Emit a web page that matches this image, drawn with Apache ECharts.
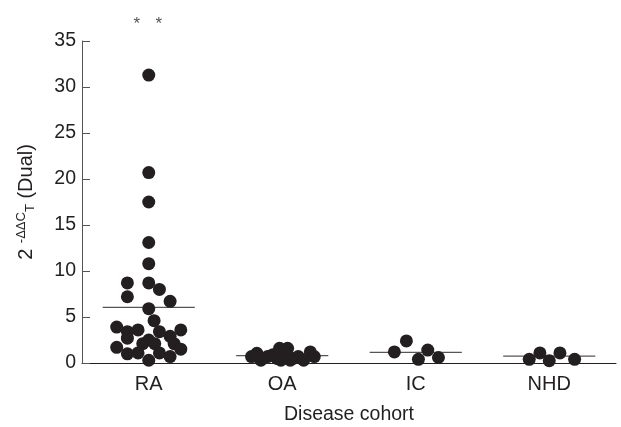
<!DOCTYPE html>
<html>
<head>
<meta charset="utf-8">
<script src="https://cdn.jsdelivr.net/npm/echarts@6/dist/echarts.min.js"></script>
<style>
html,body{margin:0;padding:0;background:#fff;}
#main{width:621px;height:427px;}
</style>
</head>
<body>
<div id="main"></div>
<script>
// 分组
var categories = ['RA', 'OA', 'IC', 'NHD'];
var yTicks = [0, 5, 10, 15, 20, 25, 30, 35];

// 每组的数值与横向散开量（单位：类目宽度）
var raValues = [31.3, 20.7, 17.5, 13.1, 10.8, 8.7, 8.7, 8.0, 7.2, 6.7, 5.9, 4.6, 3.9, 3.4, 3.6, 3.4, 3.6, 2.7, 2.9, 2.5, 2.1, 2.1, 1.7, 2.1, 1.5, 1.0, 1.1, 1.1, 0.7, 0.3];
var raJitter = [0, 0, 0, 0, 0, -0.16, 0, 0.08, -0.16, 0.16, 0, 0.04, -0.24, -0.16, -0.08, 0.08, 0.24, -0.16, 0.16, 0, -0.045, 0.045, -0.24, 0.19, 0.24, -0.16, -0.08, 0.08, 0.16, 0];
var oaValues = [1.05, 0.7, 0.3, 0.7, 0.9, 1.6, 1.6, 0.3, 0.9, 0.5, 0.7, 0.3, 1.2, 0.7, 0.5, 0.3];
var oaJitter = [-0.19, -0.23, -0.16, -0.11, -0.07, -0.02, 0.04, -0.01, 0.02, 0.08, 0.12, 0.16, 0.21, 0.24, -0.04, 0.06];
var icValues = [2.4, 1.2, 0.4, 1.4, 0.6];
var icJitter = [-0.07, -0.16, 0.02, 0.09, 0.17];
var nhdValues = [0.4, 1.1, 0.25, 1.1, 0.4];
var nhdJitter = [-0.15, -0.07, 0, 0.08, 0.19];

// 均值线
var means = [6.05, 0.8, 1.15, 0.75];

// 显著性星号（RA 上方）
var sigJitter = [-0.09, 0.075];
var sigY = 36.8;

var groups = [[raValues, raJitter], [oaValues, oaJitter], [icValues, icJitter], [nhdValues, nhdJitter]];
var points = [];
groups.forEach(function (g, i) {
	g[0].forEach(function (v, k) {
		points.push([i + 1 + g[1][k], v]);
	});
});

var chart = echarts.init(document.getElementById('main'));
var halfW = 0.345;

chart.setOption({
	animation: false,
	grid: {left: 82, right: 5, top: 41, bottom: 64, containLabel: false, outerBoundsMode: 'none'},
	xAxis: [{
		type: 'category',
		data: categories,
		name: 'Disease cohort',
		nameLocation: 'middle',
		nameGap: 42,
		nameTextStyle: {fontFamily: 'Liberation Sans', fontSize: 19.5, color: '#231f20'},
		axisLine: {lineStyle: {color: '#231f20', width: 1}},
		axisTick: {show: false},
		axisLabel: {fontFamily: 'Liberation Sans', fontSize: 20, color: '#231f20', margin: 11},
		splitLine: {show: false}
	}, {
		type: 'value',
		min: 0.5,
		max: 4.5,
		show: false
	}],
	yAxis: {
		type: 'value',
		min: 0,
		max: 35,
		interval: 5,
		name: '{b|2 }{sup|-ΔΔC}{sub|T}{b| (Dual)}',
		nameLocation: 'middle',
		nameRotate: 90,
		nameGap: 44,
		nameTextStyle: {
			rich: {
				b: {fontFamily: 'Liberation Sans', fontSize: 20, color: '#231f20'},
				sup: {fontFamily: 'Liberation Sans', fontSize: 13, color: '#231f20', padding: [0, 0, 10, 0]},
				sub: {fontFamily: 'Liberation Sans', fontSize: 13, color: '#231f20', padding: [8, 0, 0, 0]}
			}
		},
		axisLine: {show: true, lineStyle: {color: '#555', width: 1}},
		axisTick: {show: true, inside: true, length: 8, lineStyle: {color: '#555'}},
		axisLabel: {
			fontFamily: 'Liberation Sans', fontSize: 19.5, color: '#231f20', margin: 6,
			formatter: function (v) { return yTicks.indexOf(v) >= 0 ? String(v) : ''; }
		},
		splitLine: {show: false}
	},
	series: [{
		type: 'custom',
		xAxisIndex: 1,
		z: 1,
		data: means.map(function (m, i) { return [i + 1, m]; }),
		renderItem: function (params, api) {
			var x = api.value(0), y = api.value(1);
			var p1 = api.coord([x - halfW, y]);
			var p2 = api.coord([x + halfW, y]);
			return {
				type: 'line',
				shape: {x1: p1[0], y1: p1[1], x2: p2[0], y2: p2[1]},
				style: {stroke: '#555', lineWidth: 1.2}
			};
		}
	}, {
		type: 'scatter',
		xAxisIndex: 1,
		z: 2,
		symbolSize: 13,
		itemStyle: {color: '#231f20', opacity: 1},
		data: points
	}, {
		type: 'scatter',
		xAxisIndex: 1,
		clip: false,
		symbolSize: 1,
		itemStyle: {color: 'rgba(0,0,0,0)'},
		label: {show: true, position: 'inside', formatter: '*', fontFamily: 'Liberation Sans', fontSize: 17, color: '#231f20'},
		data: sigJitter.map(function (d) { return [1 + d, sigY]; })
	}]
});
</script>
</body>
</html>
